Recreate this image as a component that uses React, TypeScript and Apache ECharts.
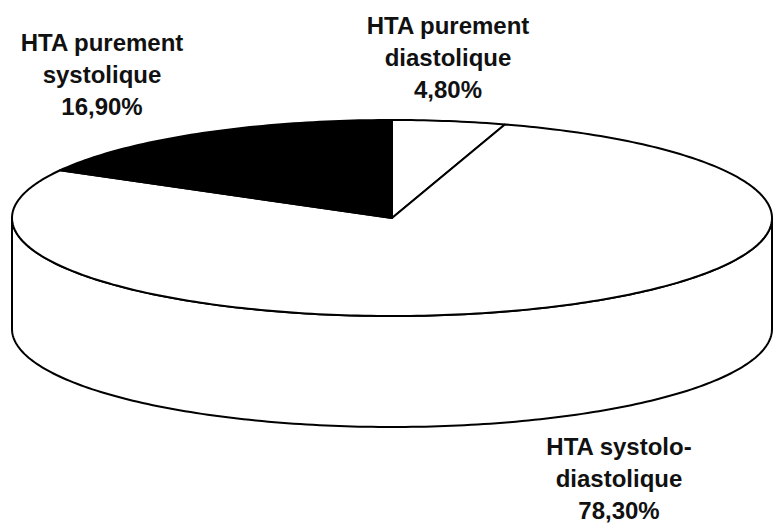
import React, { useEffect, useRef } from "react";
import * as echarts from "echarts";

// Slices in clockwise order starting at 12 o'clock
const categories = ["HTA purement\ndiastolique", "HTA systolo-\ndiastolique", "HTA purement\nsystolique"];
const values = [4.8, 78.3, 16.9];
const colors = ["#ffffff", "#ffffff", "#000000"];

const fmt = (v: number) => v.toFixed(2).replace(".", ",") + "%";

export default function App() {
  const ref = useRef<HTMLDivElement>(null);
  useEffect(() => {
    if (!ref.current) return;
    const chart = echarts.init(ref.current, null, { renderer: "svg" });
    const total = values.reduce((a, b) => a + b, 0);
    const cx = 392, cy = 218, rx = 380, ry = 98, depth = 111;
    const pt = (deg: number, dy = 0) => {
      const r = (deg * Math.PI) / 180;
      return [cx + rx * Math.sin(r), cy - ry * Math.cos(r) + dy];
    };
    const arc = (a0: number, a1: number, dy = 0) => {
      const pts: number[][] = [];
      const n = Math.max(2, Math.ceil(Math.abs(a1 - a0)));
      for (let k = 0; k <= n; k++) pts.push(pt(a0 + ((a1 - a0) * k) / n, dy));
      return pts;
    };
    const labelPos = [
      { x: 448, y: 9 },
      { x: 619, y: 430 },
      { x: 102, y: 26 },
    ];
    const option: any = {
      animation: false,
      backgroundColor: "#ffffff",
      series: [
        {
          type: "custom",
          coordinateSystem: "none",
          data: values.map((v, i) => ({ value: [v, i], name: categories[i] })),
          renderItem: (params: any, api: any) => {
            const i = params.dataIndex;
            const v = api.value(0);
            let before = 0;
            for (let k = 0; k < i; k++) before += values[k];
            const a0 = (before / total) * 360;
            const a1 = ((before + v) / total) * 360;
            const children: any[] = [];
            const s0 = Math.max(a0, 90), s1 = Math.min(a1, 270);
            if (s1 > s0) {
              const top = arc(s0, s1);
              const bot = arc(s1, s0, depth);
              children.push({
                type: "polygon",
                shape: { points: top.concat(bot) },
                style: { fill: colors[i], stroke: "#000", lineWidth: 2, lineJoin: "round" },
              });
            }
            children.push({
              type: "polygon",
              shape: { points: [[cx, cy]].concat(arc(a0, a1)) },
              style: { fill: colors[i], stroke: "#000", lineWidth: 2, lineJoin: "round" },
            });
            return { type: "group", children };
          },
        },
      ],
      graphic: categories.map((c, i) => ({
        type: "text",
        x: labelPos[i].x,
        y: labelPos[i].y,
        style: {
          text: c + "\n" + fmt(values[i]),
          fill: "#111",
          font: 'bold 24px "Liberation Sans", Arial, sans-serif',
          lineHeight: 32,
          align: "center",
          verticalAlign: "top",
        },
      })),
    };
    chart.setOption(option);
    return () => chart.dispose();
  }, []);
  return (
    <div
      ref={ref}
      style={{ position: "absolute", left: 0, top: 0, width: 773, height: 524 }}
    />
  );
}
